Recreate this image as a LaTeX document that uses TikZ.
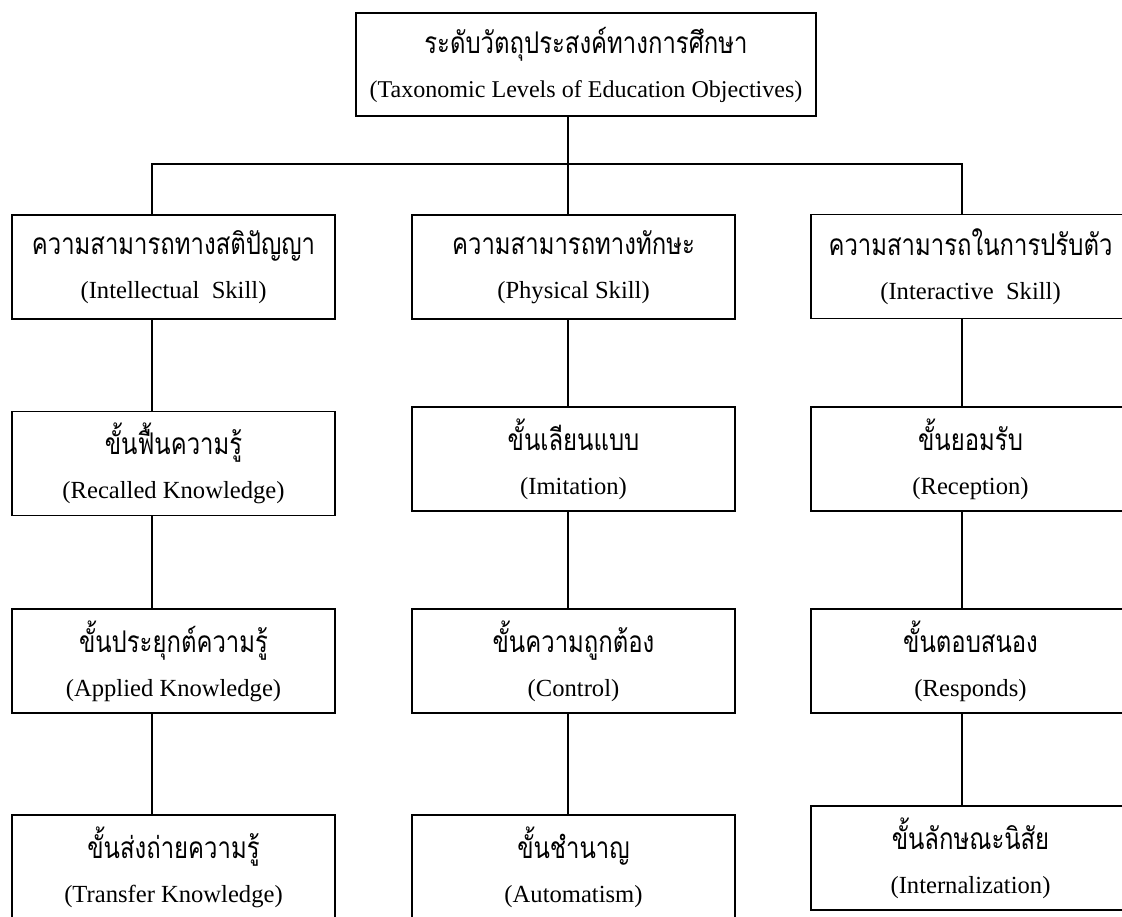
\documentclass[tikz,border=0pt]{standalone}
\usepackage{fontspec}
\setmainfont{Liberation Serif}
\newfontfamily\thaifont[Script=Thai,FakeStretch=0.8]{Loma}

\tikzset{
  lvlbox/.style={draw=black,line width=1.1pt,minimum width=6.46cm,minimum height=2.08cm,align=center,inner sep=2pt,font=\fontsize{14}{25}\selectfont},
  link/.style={line width=1pt}
}
\newcommand{\thline}[1]{{\thaifont\fontsize{17}{25}\selectfont #1}}

\begin{document}
\begin{tikzpicture}
\useasboundingbox (0,0) rectangle (22.44,-18.32);
% top
\node[lvlbox,minimum width=9.2cm,minimum height=2.06cm,font=\fontsize{13.7}{25}\selectfont] (top) at (11.72,-1.29) {\thline{ระดับวัตถุประสงค์ทางการศึกษา}\\(Taxonomic Levels of Education Objectives)};
% column lines
\coordinate (colA) at (3.04,0);
\coordinate (colB) at (11.36,0);
\coordinate (colC) at (19.24,0);
\coordinate (bus) at (11.36,-3.28);
% second row
\node[lvlbox] (intel) at (3.47,-5.34) {\thline{ความสามารถทางสติปัญญา}\\(Intellectual~ Skill)};
\node[lvlbox] (phys) at (11.47,-5.34) {\thline{ความสามารถทางทักษะ}\\(Physical Skill)};
\node[lvlbox,minimum width=6.38cm] (inter) at (19.41,-5.33) {\thline{ความสามารถในการปรับตัว}\\(Interactive~ Skill)};
% intellectual
\node[lvlbox] (recall) at (3.47,-9.27) {\thline{ขั้นฟื้นความรู้}\\(Recalled Knowledge)};
\node[lvlbox] (applied) at (3.47,-13.22) {\thline{ขั้นประยุกต์ความรู้}\\(Applied Knowledge)};
\node[lvlbox] (transfer) at (3.47,-17.34) {\thline{ขั้นส่งถ่ายความรู้}\\(Transfer Knowledge)};
% physical
\node[lvlbox] (imit) at (11.47,-9.18) {\thline{ขั้นเลียนแบบ}\\(Imitation)};
\node[lvlbox] (control) at (11.47,-13.22) {\thline{ขั้นความถูกต้อง}\\(Control)};
\node[lvlbox] (auto) at (11.47,-17.34) {\thline{ขั้นชำนาญ}\\(Automatism)};
% interactive
\node[lvlbox,minimum width=6.38cm] (recep) at (19.41,-9.18) {\thline{ขั้นยอมรับ}\\(Reception)};
\node[lvlbox,minimum width=6.38cm] (resp) at (19.41,-13.22) {\thline{ขั้นตอบสนอง}\\(Responds)};
\node[lvlbox,minimum width=6.38cm] (intern) at (19.41,-17.16) {\thline{ขั้นลักษณะนิสัย}\\(Internalization)};
% connectors
\draw[link] (top.south -| colB) -- (phys.north -| colB);
\draw[link] (intel.north -| colA) |- (bus) -| (inter.north -| colC);
\foreach \col/\a/\b in {colA/intel/recall,colA/recall/applied,colA/applied/transfer,
  colB/phys/imit,colB/imit/control,colB/control/auto,
  colC/inter/recep,colC/recep/resp,colC/resp/intern}
  \draw[link] (\a.south -| \col) -- (\b.north -| \col);
\end{tikzpicture}
\end{document}
